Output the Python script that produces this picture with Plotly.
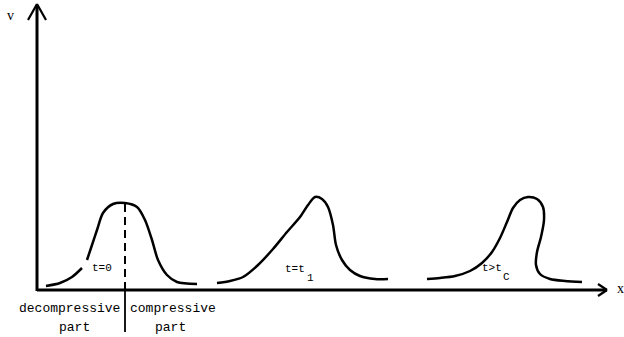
import plotly.graph_objects as go

# Sketch curves (data units: origin at axis intersection, y up)
c1_x = [9, 23, 35, 45, None, 50, 55, 60, 66, 76, 88, 100, 108, 115, 121, 130, 140, 160]
c1_y = [4, 7, 13, 22, None, 30, 45, 60, 77, 86, 87, 83, 70, 50, 30, 15, 8, 6]

c2_x = [180, 193, 206, 221, 236, 250, 263, 271, 278, 285, 291, 296, 299, 305, 313, 323, 338, 351]
c2_y = [7, 9, 13, 25, 41, 58, 73, 85, 93, 91, 83, 65, 45, 30, 20, 14, 11, 11]

c3_x = [390, 403, 418, 433, 445, 455, 463, 470, 476, 483, 491, 500, 506, 507, 504, 500, 499, 503, 513, 528, 545]
c3_y = [11, 12, 14, 19, 27, 38, 52, 68, 82, 90, 93, 91, 83, 70, 53, 38, 25, 16, 11, 9, 8]

peak_x = 88
peak_y = 87

curve_labels = ["t=0", "t=t", "t>t"]
curve_label_x = [65, 258, 455]
curve_label_y = [22, 21, 22]
sub_labels = ["", "1", "C"]
sub_x = [0, 273, 469]
sub_y = [0, 12, 13]

fig = go.Figure()
for xs, ys in [(c1_x, c1_y), (c2_x, c2_y), (c3_x, c3_y)]:
    fig.add_trace(go.Scatter(x=xs, y=ys, mode="lines", line=dict(color="black", width=2.5, shape="spline", smoothing=0.8),
                             connectgaps=False, hoverinfo="skip", showlegend=False))

shapes = []
K = dict(color="black", width=3)
# axes
shapes.append(dict(type="line", x0=0, y0=-1, x1=0, y1=285, line=K))
shapes.append(dict(type="line", x0=0, y0=0, x1=570, y1=0, line=K))
# arrowheads
A = dict(color="black", width=2.2)
shapes.append(dict(type="line", x0=-9, y0=270, x1=0, y1=286, line=A))
shapes.append(dict(type="line", x0=9, y0=270, x1=0, y1=286, line=A))
shapes.append(dict(type="line", x0=561, y0=6, x1=570, y1=0, line=A))
shapes.append(dict(type="line", x0=561, y0=-6, x1=570, y1=0, line=A))
# dashed divider at peak and solid below axis
shapes.append(dict(type="line", x0=peak_x, y0=0, x1=peak_x, y1=peak_y, line=dict(color="black", width=2, dash="8px,5px")))
shapes.append(dict(type="line", x0=peak_x, y0=0, x1=peak_x, y1=-42, line=dict(color="black", width=1.8)))

ann = []
mono = dict(family="Liberation Mono", size=13, color="black")
small = dict(family="Liberation Mono", size=11, color="black")
serif = dict(family="Liberation Serif", size=14, color="black")
ann.append(dict(x=32, y=-18, text="decompressive", font=mono))
ann.append(dict(x=37, y=-37, text="part", font=mono))
ann.append(dict(x=136, y=-18, text="compressive", font=mono))
ann.append(dict(x=133, y=-37, text="part", font=mono))
ann.append(dict(x=-27, y=275, text="v", font=serif))
ann.append(dict(x=583, y=2, text="x", font=serif))
for t, x, y in zip(curve_labels, curve_label_x, curve_label_y):
    ann.append(dict(x=x, y=y, text=t, font=small))
for t, x, y in zip(sub_labels, sub_x, sub_y):
    if t:
        ann.append(dict(x=x, y=y, text=t, font=small))
for a in ann:
    a.update(showarrow=False, xanchor="center", yanchor="middle", xref="x", yref="y")

fig.update_layout(
    width=624, height=337, autosize=False,
    margin=dict(l=0, r=0, t=0, b=0),
    paper_bgcolor="white", plot_bgcolor="white",
    xaxis=dict(range=[-37, 587], visible=False, fixedrange=True),
    yaxis=dict(range=[-47, 290], visible=False, fixedrange=True),
    shapes=shapes, annotations=ann,
)
fig.write_html("out.html")
